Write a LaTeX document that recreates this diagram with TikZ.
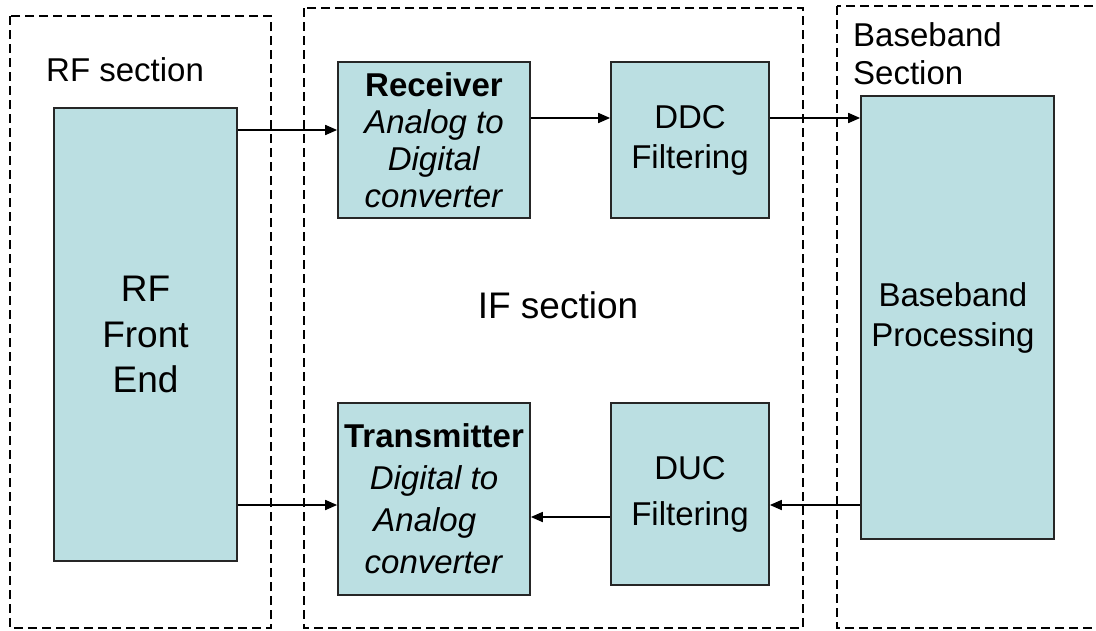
\documentclass[tikz,border=0pt]{standalone}
\usepackage{fontspec}
\setmainfont{Liberation Sans}
\usetikzlibrary{arrows.meta}
\definecolor{boxfill}{RGB}{187,223,226}
\begin{document}
\begin{tikzpicture}[x=1pt,y=-1pt,
  blk/.style={draw=black!85, line width=1.7pt, fill=boxfill, inner sep=0pt,
    align=center, font=\fontsize{33}{37}\selectfont},
  zone/.style={draw=black, line width=1.8pt, dash pattern=on 9pt off 5pt},
  arr/.style={draw=black, line width=1.7pt, -{Triangle[length=12pt,width=10pt]}},
  lbl/.style={inner sep=0pt, align=left, font=\fontsize{33}{38}\selectfont}]
\useasboundingbox (0,0) rectangle (1096,630);

% dashed section frames
\begin{scope}
  \clip (0,0) rectangle (1096,630);
  \draw[zone] (10,16) rectangle (271,628);
  \draw[zone] (304,8) rectangle (803,628);
  \draw[zone] (837,6) rectangle (1120,628);
\end{scope}

% section labels
\node[lbl, anchor=west] (rflbl) at (46,70) {RF section};
\node[lbl, anchor=west] (bblbl) at (853,54) {Baseband\\Section};
\node[lbl, anchor=center, font=\fontsize{37}{44}\selectfont] (iflbl) at (558,305) {IF section};

% processing blocks
\node[blk, minimum width=183pt, minimum height=453pt,
      font=\fontsize{37}{45.5}\selectfont] (rf) at (145.5,334.5) {RF\\Front\\End};
\node[blk, minimum width=192pt, minimum height=156pt] (rx) at (434,140)
  {\textbf{Receiver}\\\textit{Analog to}\\\textit{Digital}\\\textit{converter}};
\node[blk, minimum width=158pt, minimum height=156pt,
      font=\fontsize{33}{40}\selectfont] (ddc) at (690,140) {DDC\\Filtering};
\node[blk, minimum width=193pt, minimum height=443pt,
      font=\fontsize{33}{40}\selectfont] (bb) at (957.5,317.5)
  {Baseband\hphantom{\ }\\Processing\hphantom{\ }};
\node[blk, minimum width=192pt, minimum height=192pt,
      font=\fontsize{33}{42}\selectfont] (tx) at (434,499)
  {\textbf{Transmitter}\\\textit{Digital to}\\\textit{Analog\hphantom{\ \ }}\\\textit{converter}};
\node[blk, minimum width=158pt, minimum height=182pt,
      font=\fontsize{33}{46}\selectfont] (duc) at (690,494) {DUC\\Filtering};

% signal flow
\draw[arr] (rf.east |- 0,130) -- (rx.west |- 0,130);
\draw[arr] (rx.east |- 0,118) -- (ddc.west |- 0,118);
\draw[arr] (ddc.east |- 0,118) -- (bb.west |- 0,118);
\draw[arr] (bb.west |- 0,505) -- (duc.east |- 0,505);
\draw[arr] (duc.west |- 0,517) -- (tx.east |- 0,517);
\draw[arr] (rf.east |- 0,505) -- (tx.west |- 0,505);
\end{tikzpicture}
\end{document}
